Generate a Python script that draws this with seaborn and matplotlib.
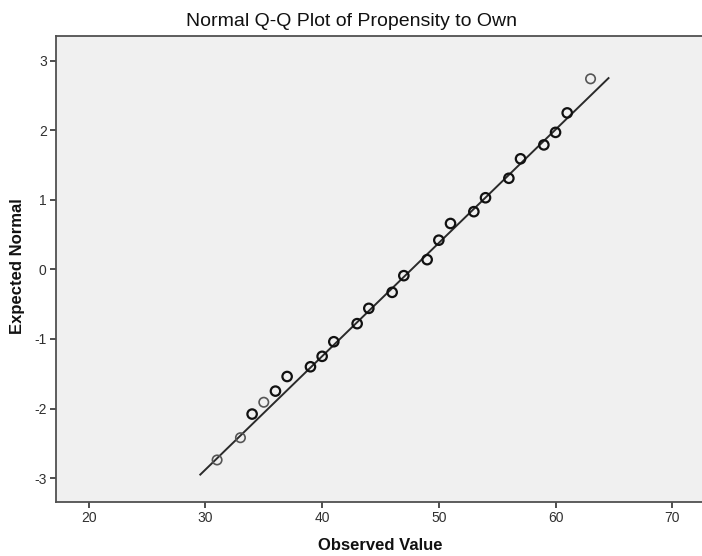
import numpy as np
import pandas as pd
import matplotlib
matplotlib.use("Agg")
import matplotlib.pyplot as plt
import seaborn as sns

# Observed values and their expected normal scores
observed = [31, 33, 34, 35, 36, 37, 39, 40, 41, 43, 44, 46, 47, 49, 50, 51,
            53, 54, 56, 57, 59, 60, 61, 63]
expected = [-2.74, -2.42, -2.08, -1.91, -1.75, -1.54, -1.40, -1.25, -1.04,
            -0.78, -0.56, -0.33, -0.09, 0.14, 0.42, 0.66, 0.83, 1.03, 1.31,
            1.59, 1.79, 1.97, 2.25, 2.74]
# values with a single case are drawn once (lighter outline)
single_case = [31, 33, 35, 63]

# Reference line from the normal fit
line_x = [29.5, 64.6]
line_y = [-2.96, 2.76]

x_ticks = [20, 30, 40, 50, 60, 70]
y_ticks = [-3, -2, -1, 0, 1, 2, 3]

sns.set_theme(style="white")
plt.rcParams["font.family"] = ["Liberation Sans", "DejaVu Sans"]
plt.rcParams["axes.unicode_minus"] = False

df = pd.DataFrame({"Observed Value": observed, "Expected Normal": expected})
df["tone"] = np.where(df["Observed Value"].isin(single_case), "single", "multi")

W, H = 702, 556
fig = plt.figure(figsize=(W / 100, H / 100), dpi=100)
left, right, top, bottom = 55.7, 702, 35.7, 501.7
ax_w, ax_h = right - left, bottom - top
ax = fig.add_axes([left / W, 1 - bottom / H, ax_w / W, ax_h / H])
ax.set_facecolor("#f0f0f0")

ax.plot(line_x, line_y, color="#2a2a2a", lw=1.4, solid_capstyle="butt", zorder=2)

for tone, ec in [("single", "#555555"), ("multi", "#111111")]:
    sub = df[df["tone"] == tone]
    sns.scatterplot(data=sub, x="Observed Value", y="Expected Normal", ax=ax,
                    marker="o", s=46, facecolor="none", edgecolor=ec,
                    linewidth=1.6 if tone == "multi" else 1.2, zorder=3,
                    legend=False)

ax.set_xlim(17.17, 72.55)
ax.set_ylim(-3.34, 3.36)
ax.set_xticks(x_ticks)
ax.set_yticks(y_ticks)

ax.spines["right"].set_visible(False)
for side in ["left", "bottom", "top"]:
    ax.spines[side].set_color("#505050")
    ax.spines[side].set_linewidth(1.3)

ax.tick_params(axis="both", direction="out", length=4.5, width=1.2, color="#303030",
               labelsize=10, labelcolor="#303030", pad=2,
               bottom=True, left=True)

ax.set_xlabel("Observed Value", fontsize=12, fontweight="bold", color="#111111",
              ha="center", va="center")
ax.set_ylabel("Expected Normal", fontsize=12, fontweight="bold", color="#111111",
              ha="center", va="center")
ax.xaxis.set_label_coords((380 - left) / ax_w, (bottom - 545) / ax_h)
ax.yaxis.set_label_coords((18 - left) / ax_w, (bottom - 266) / ax_h)

fig.text(352 / W, 1 - 22 / H, "Normal Q-Q Plot of Propensity to Own",
         fontsize=14, color="#111111", ha="center", va="center")

fig.savefig("out.png", dpi=100)
